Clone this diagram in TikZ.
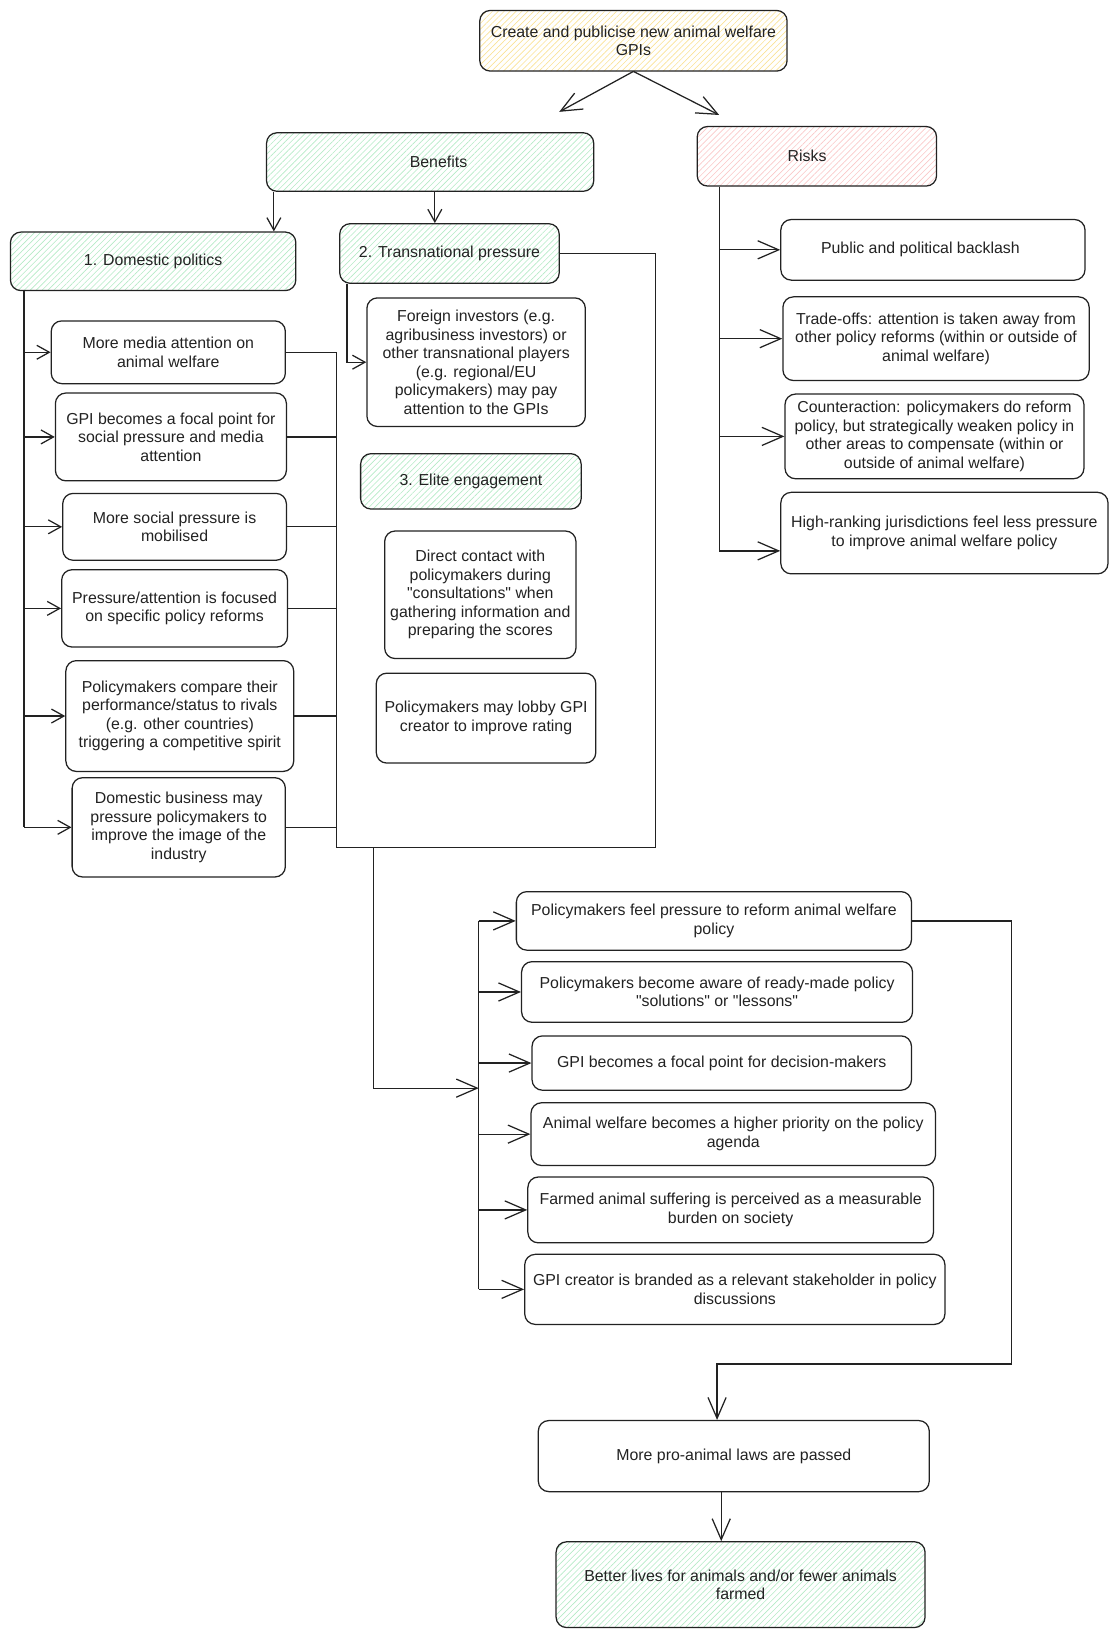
\documentclass[tikz,border=0pt]{standalone}
\usepackage{fontspec}
\setmainfont{Liberation Sans}[Ligatures=TeXOff]
\usetikzlibrary{arrows.meta,patterns.meta,calc}
\definecolor{hgreen}{RGB}{180,234,198}
\definecolor{hyellow}{RGB}{250,226,150}
\definecolor{hred}{RGB}{250,200,200}
\definecolor{ink}{RGB}{34,34,34}
\tikzset{
 box/.style={draw=ink, line width=0.9pt, rounded corners=7.5pt, align=center, inner sep=2pt,
   font=\fontsize{11.4}{13.3}\selectfont, text=ink},
 gbox/.style={box, pattern={Lines[angle=45,distance=3pt,line width=0.45pt]}, pattern color=hgreen},
 ybox/.style={box, pattern={Lines[angle=45,distance=3pt,line width=0.45pt]}, pattern color=hyellow},
 rbox/.style={box, pattern={Lines[angle=45,distance=3pt,line width=0.45pt]}, pattern color=hred},
 ln/.style={draw=ink, line width=0.9pt},
 arr/.style={ln, -{Straight Barb[length=9pt,width=10pt]}},
 arrL/.style={ln, -{Straight Barb[length=15pt,width=13pt]}},
}
\newcommand\bx[7][box]{\node[#1,minimum width={(#4-#2)*0.75pt},minimum height={(#5-#3)*0.75pt}] (#6) at ({(#2+#4)/2},{(#3+#5)/2}) {#7};}
\begin{document}
\begin{tikzpicture}[x=0.75pt,y=-0.75pt]
\useasboundingbox (0,0) rectangle (1070,1568);
% top level
\bx[ybox]{459}{10}{753}{68}{top}{Create and publicise new animal welfare\\GPIs}
\bx[gbox]{255}{127}{568}{183}{ben}{\hspace*{12pt}Benefits}
\bx[rbox]{667}{121}{896}{178}{risks}{Risks\hspace*{14pt}}
\bx[gbox]{10}{222}{283}{278}{dom}{1. Domestic politics}
\bx[gbox]{325}{214}{535}{271}{tp}{2. Transnational pressure}
% domestic items
\bx{49}{307}{273}{367}{a}{More media attention on\\animal welfare}
\bx{53}{376}{274}{460}{b}{GPI becomes a focal point for\\social pressure and media\\attention}
\bx{60}{472}{274}{536}{c}{More social pressure is\\mobilised}
\bx{59}{545}{275}{619}{d}{Pressure/attention is focused\\on specific policy reforms}
\bx{63}{632}{281}{738}{e}{Policymakers compare their\\performance/status to rivals\\(e.g. other countries)\\triggering a competitive spirit}
\bx{69}{744}{273}{839}{f}{Domestic business may\\pressure policymakers to\\improve the image of the\\industry}
% transnational column
\bx{351}{285}{560}{408}{g}{Foreign investors (e.g.\\agribusiness investors) or\\other transnational players\\(e.g. regional/EU\\policymakers) may pay\\attention to the GPIs}
\bx[gbox]{345}{434}{556}{487}{ee}{3. Elite engagement}
\bx{368}{508}{551}{630}{i}{Direct contact with\\policymakers during\\"consultations" when\\gathering information and\\preparing the scores}
\bx{360}{644}{570}{730}{j}{Policymakers may lobby GPI\\creator to improve rating}
% risks
\bx{747}{210}{1038}{268}{k}{Public and political backlash\hspace*{18pt}}
\bx{749}{284}{1042}{364}{l}{Trade-offs: attention is taken away from\\other policy reforms (within or outside of\\animal welfare)}
\bx{751}{377}{1037}{458}{m}{Counteraction: policymakers do reform\\policy, but strategically weaken policy in\\other areas to compensate (within or\\outside of animal welfare)}
\bx{747}{471}{1060}{549}{n}{High-ranking jurisdictions feel less pressure\\to improve animal welfare policy}
% bottom column
\bx{494}{853}{872}{909}{o}{Policymakers feel pressure to reform animal welfare\\policy}
\bx{499}{920}{873}{978}{p}{Policymakers become aware of ready-made policy\\"solutions" or "lessons"}
\bx{509}{991}{872}{1043}{q}{GPI becomes a focal point for decision-makers}
\bx{508}{1055}{895}{1115}{r}{Animal welfare becomes a higher priority on the policy\\agenda}
\bx{505}{1126}{893}{1189}{s}{Farmed animal suffering is perceived as a measurable\\burden on society}
\bx{502}{1200}{904}{1267}{t}{GPI creator is branded as a relevant stakeholder in policy\\discussions}
\bx{515}{1359}{889}{1427}{u}{More pro-animal laws are passed}
\bx[gbox]{532}{1475}{885}{1557}{v}{Better lives for animals and/or fewer animals\\farmed}
% ---- connectors
\coordinate (tL) at (535,107); \coordinate (tR) at (688,110);
\draw[arrL] (top.south) -- (tL);
\draw[arrL] (top.south) -- (tR);
\coordinate (x262) at (262,0); \coordinate (x416) at (416,0);
\draw[arr] (ben.south -| x262) -- (dom.north -| x262);
\draw[arr] (ben.south -| x416) -- (tp.north -| x416);
% domestic bus
\coordinate (dbx) at (23,0);
\draw[ln] (dom.south -| dbx) -- (dbx |- f.west);
\foreach \X in {a,b,c,d,e,f}{\draw[arr] (dbx |- \X.west) -- (\X.west);}
% right collector
\coordinate (rbx) at (322,0);
\foreach \X in {a,b,c,d,e,f}{\draw[ln] (\X.east) -- (rbx |- \X.east);}
\coordinate (bl) at (322,811); \coordinate (br) at (627,811); \coordinate (trc) at (627,0);
\draw[ln] (rbx |- a.east) -- (bl) -- (br) -- (trc |- tp.east) -- (tp.east);
% down to bottom bus
\coordinate (x357) at (357,0); \coordinate (bbx) at (458,0); \coordinate (y1041) at (0,1041);
\draw[arrL] (x357 |- bl) -- (x357 |- y1041) -- (bbx |- y1041);
\draw[ln] (bbx |- o.west) -- (bbx |- t.west);
\foreach \X in {o,p,q,r,s,t}{\draw[arrL] (bbx |- \X.west) -- (\X.west);}
% transnational
\coordinate (x332) at (332,0);
\draw[arr] (tp.south -| x332) -- (x332 |- g.west) -- (g.west);
% risks
\coordinate (rkx) at (688,0); \coordinate (nIn) at ($(n.west)+(0,17)$);
\draw[ln] (risks.south -| rkx) -- (rkx |- nIn);
\foreach \X in {k,l,m}{\draw[arrL] (rkx |- \X.west) -- (\X.west);}
\draw[arrL] (rkx |- nIn) -- (nIn);
% to laws
\coordinate (x968) at (968,0); \coordinate (y1305) at (0,1305); \coordinate (x686) at (686,0);
\draw[arrL] (o.east) -- (x968 |- o.east) -- (x968 |- y1305) -- (x686 |- y1305) -- (x686 |- u.north);
\coordinate (x690) at (690,0);
\draw[arrL] (u.south -| x690) -- (v.north -| x690);
\end{tikzpicture}
\end{document}
